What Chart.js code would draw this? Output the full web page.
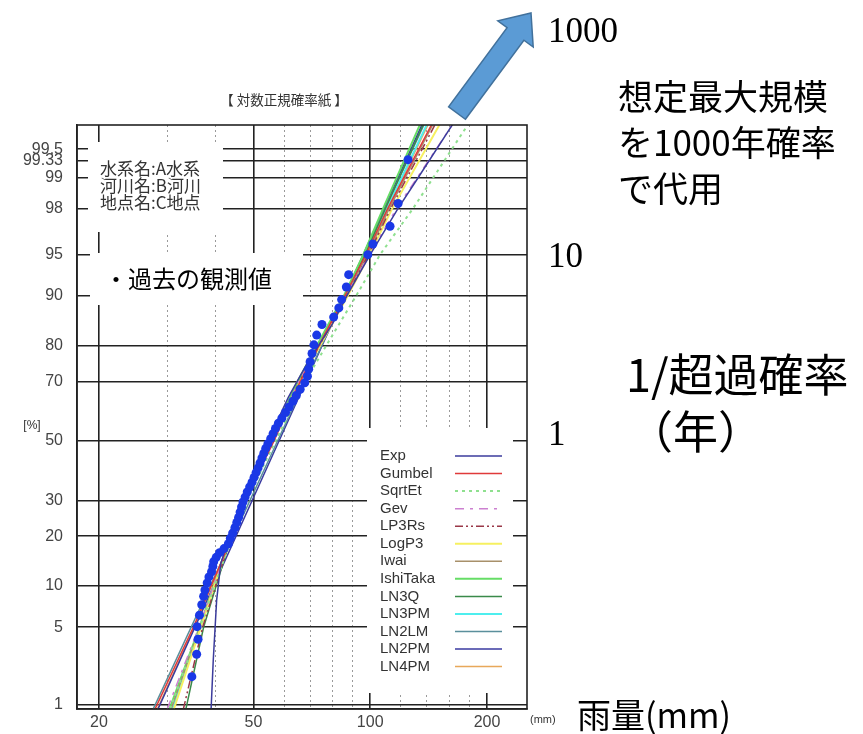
<!DOCTYPE html>
<html><head><meta charset="utf-8">
<script src="https://cdn.jsdelivr.net/npm/chart.js@4.4.1/dist/chart.umd.min.js"></script>
<style>html,body{margin:0;padding:0;background:#fff;overflow:hidden}canvas{display:block}</style>
</head><body>
<canvas id="c" width="863" height="734"></canvas>
<script>
// ---------- axis ticks ----------
const probTicks = [1, 5, 10, 20, 30, 50, 70, 80, 90, 95, 98, 99, 99.33, 99.5];
const probTickLabels = ['1','5','10','20','30','50','70','80','90','95','98','99','99.33','99.5'];
const rainTicksMajor = [20, 50, 100, 200];
const rainTickLabels = ['20','50','100','200'];
const rainTicksMinor = [30, 40, 60, 70, 80, 90, 120, 140, 160, 180];

// ---------- observed values (rain mm, non-exceedance %) ----------
const obsRain = [34.7,34.7,35.7,36.0,35.8,36.3,36.8,37.2,37.5,38.0,38.4,39.0,39.3,39.5,40.1,40.9,42.0,43.1,43.6,44.2,44.8,45.3,45.8,46.2,46.6,47.0,47.6,48.2,48.9,49.6,50.2,50.8,51.4,52.0,52.6,53.2,53.8,54.5,55.4,56.2,57.0,58.0,59.2,60.5,61.8,63.2,64.5,66.0,67.8,68.9,69.4,70.0,70.8,71.6,72.8,75.1,80.5,83.0,84.4,86.8,88.0,98.6,101.6,112.5,118.0,125.2];
const obsProb = [0.67,1.87,2.98,4.0,5.05,6.2,7.4,8.5,9.4,10.5,11.5,12.4,13.4,14.3,15.2,16.2,17.1,18.2,19.5,20.8,22.2,23.6,25.0,26.5,28.0,29.5,31.0,32.6,34.2,35.8,37.4,39.0,40.6,42.3,44.0,45.7,47.4,49.0,50.8,52.6,54.4,56.2,58.0,59.9,61.8,63.7,65.6,67.6,69.6,71.6,73.7,75.8,78.0,80.2,82.5,84.8,86.3,88.0,89.4,91.3,92.9,95.0,95.9,97.1,98.2,99.35];

// ---------- fitted distributions ----------
const fitProb = [0.9, 5, 15.5, 30, 50, 70, 90, 95, 98, 99.74];
const expProb = [0.9, 2.65, 8, 14, 25, 35, 50, 65, 75, 85, 90, 95, 98, 99, 99.74];
const expRain = [38.9, 39.4, 40.2, 41.2, 45, 48.5, 54.5, 61.5, 68.5, 80, 87, 100, 118, 133, 163];
const gumbelRain = [27.9, 35, 42, 47.5, 56.5, 66, 86, 97.5, 111, 144];
const sqrtEtProb = [0.9, 5, 15.5, 30, 50, 70, 80, 90, 95, 98, 99.74];
const sqrtEtRain = [30.5, 36.4, 42.3, 48, 57, 68, 77, 92, 106, 129, 178.7];
const gevRain = [30.0, 36.2, 42, 47.5, 55.5, 65.5, 86.5, 99.5, 117, 163];
const lp3rsRain = [33.0, 37, 42.2, 47.4, 55.4, 65.8, 87, 99, 113, 147];
const logp3Rain = [31.2, 36.6, 42, 47.3, 55.5, 66, 87.5, 99.5, 114, 151];
const iwaiRain = [30.7, 36.4, 42, 47.2, 55.3, 65.8, 87, 98.5, 112, 145];
const ishiTakaRain = [30.4, 36.3, 42, 47, 55, 65, 85.5, 96, 108, 134.4];
const ln3qRain = [33.5, 37.2, 42.3, 47.3, 55.2, 65.2, 86, 97, 109.5, 137];
const ln3pmRain = [30.9, 36.5, 42, 47.2, 55.3, 65.5, 86.5, 97.5, 110.5, 140];
const ln2Prob = [0.9, 50, 99.74];
const ln2lmRain = [27.6, 57.7, 137.7];
const ln2pmRain = [28.4, 58.2, 136];
const ln4pmRain = [28.3, 35.2, 42, 47.4, 56, 65.8, 86.5, 98, 111, 141];

// ---------- styles ----------
const fits = [
  {name:'Exp',      rain:expRain,      prob:expProb,    color:'#3b3b9c', width:1.5, dash:[]},
  {name:'Gumbel',   rain:gumbelRain,   prob:fitProb,    color:'#e03a3a', width:1.5, dash:[]},
  {name:'SqrtEt',   rain:sqrtEtRain,   prob:sqrtEtProb, color:'#8fe08f', width:2,   dash:[3,4]},
  {name:'Gev',      rain:gevRain,      prob:fitProb,    color:'#cc80d0', width:1.5, dash:[9,6,3,6]},
  {name:'LP3Rs',    rain:lp3rsRain,    prob:fitProb,    color:'#9a3848', width:1.5, dash:[8,3,2,3,2,3]},
  {name:'LogP3',    rain:logp3Rain,    prob:fitProb,    color:'#f6f060', width:2,   dash:[]},
  {name:'Iwai',     rain:iwaiRain,     prob:fitProb,    color:'#a8906a', width:1.5, dash:[]},
  {name:'IshiTaka', rain:ishiTakaRain, prob:fitProb,    color:'#66dd66', width:2,   dash:[]},
  {name:'LN3Q',     rain:ln3qRain,     prob:fitProb,    color:'#3a8a4a', width:1.5, dash:[]},
  {name:'LN3PM',    rain:ln3pmRain,    prob:fitProb,    color:'#4eeeee', width:2,   dash:[]},
  {name:'LN2LM',    rain:ln2lmRain,    prob:ln2Prob,    color:'#5a8f9c', width:1.5, dash:[]},
  {name:'LN2PM',    rain:ln2pmRain,    prob:ln2Prob,    color:'#3a3aa0', width:1.5, dash:[]},
  {name:'LN4PM',    rain:ln4pmRain,    prob:fitProb,    color:'#e8a85a', width:1.5, dash:[]}
];

// normal quantile (probability paper transform)
function probit(p){
  const a=[-3.969683028665376e+01,2.209460984245205e+02,-2.759285104469687e+02,1.383577518672690e+02,-3.066479806614716e+01,2.506628277459239e+00];
  const b=[-5.447609879822406e+01,1.615858368580409e+02,-1.556989798598866e+02,6.680131188771972e+01,-1.328068155288572e+01];
  const c=[-7.784894002430293e-03,-3.223964580411365e-01,-2.400758277161838e+00,-2.549671010243993e+00,4.374664141464968e+00,2.938163982698783e+00];
  const d=[7.784695709041462e-03,3.224671290700398e-01,2.445134137142996e+00,3.754408661907416e+00];
  const pl=0.02425, ph=1-pl; let q,r;
  if(p<pl){q=Math.sqrt(-2*Math.log(p));return (((((c[0]*q+c[1])*q+c[2])*q+c[3])*q+c[4])*q+c[5])/((((d[0]*q+d[1])*q+d[2])*q+d[3])*q+1);}
  if(p<=ph){q=p-0.5;r=q*q;return (((((a[0]*r+a[1])*r+a[2])*r+a[3])*r+a[4])*r+a[5])*q/(((((b[0]*r+b[1])*r+b[2])*r+b[3])*r+b[4])*r+1);}
  q=Math.sqrt(-2*Math.log(1-p));return -(((((c[0]*q+c[1])*q+c[2])*q+c[3])*q+c[4])*q+c[5])/((((d[0]*q+d[1])*q+d[2])*q+d[3])*q+1);
}
const toXY = (rain, prob) => rain.map((r,i)=>({x:r, y:probit(prob[i]/100)}));

const datasets = [{
  label:'観測値', data: toXY(obsRain, obsProb), showLine:false,
  pointRadius:4.5, pointHoverRadius:4.5, backgroundColor:'#1a38e6', borderWidth:0, clip:false
}].concat(fits.map(f=>({
  label:f.name, data: toXY(f.rain, f.prob), showLine:true, pointRadius:0,
  borderColor:f.color, borderWidth:f.width, borderDash:f.dash, tension:0, fill:false
})));

const JP = '"Noto Sans CJK JP", "Noto Sans", sans-serif';
const LAB = '"Liberation Sans Narrow", "Liberation Sans", Arial, sans-serif';

const decor = {
  id:'decor',
  beforeDraw(chart){
    const c=chart.ctx; c.save(); c.fillStyle='#fff'; c.fillRect(0,0,chart.width,chart.height); c.restore();
  },
  beforeDatasetsDraw(chart){
    const c=chart.ctx; c.save(); c.fillStyle='#fff';
    c.fillRect(88,142,135,90);     // station box
    c.fillRect(90,253,213,52);     // observed label box
    c.fillRect(367,428,146,265);   // legend box
    c.restore();
  },
  afterDatasetsDraw(chart){
    const c=chart.ctx, a=chart.chartArea;
    c.save();
    // frame
    c.strokeStyle='#222'; c.lineWidth=1.6; c.setLineDash([]);
    c.strokeRect(a.left, a.top, a.right-a.left, a.bottom-a.top);
    // legend
    c.font='15px "Liberation Sans", Arial, sans-serif'; c.fillStyle='#333';
    c.textBaseline='middle'; c.textAlign='left';
    fits.forEach((f,i)=>{
      const y=456+i*17.55;
      c.fillStyle='#333'; c.fillText(f.name,380,y);
      c.strokeStyle=f.color; c.lineWidth=f.width; c.setLineDash(f.dash);
      c.beginPath(); c.moveTo(455,y); c.lineTo(502,y); c.stroke();
    });
    c.setLineDash([]);
    // station text
    c.fillStyle='#333'; c.font='17px '+JP;
    ['水系名:A水系','河川名:B河川','地点名:C地点'].forEach((t,i)=>c.fillText(t,100,169+i*17));
    c.fillStyle='#000'; c.font='24px '+JP; c.fillText('・過去の観測値',104,279);
    // title
    c.fillStyle='#333'; c.font='13.5px '+JP; c.textAlign='center';
    c.fillText('【 対数正規確率紙 】',284,100);
    c.font='12px '+LAB; c.fillText('[%]',32,426);
    c.textAlign='left'; c.font='11px '+LAB; c.fillText('(mm)',530,720);
    // right annotations
    c.fillStyle='#000';
    c.font='35px "Liberation Serif", "Times New Roman", serif'; c.textBaseline='alphabetic';
    c.fillText('1000',548,42); c.fillText('10',548,267); c.fillText('1',548,445);
    c.textBaseline='middle';
    c.font='35px '+JP;
    c.fillText('想定最大規模',618,97); c.fillText('を1000年確率',618,143); c.fillText('で代用',618,189);
    c.font='45px '+JP;
    c.fillText('1/超過確率',626,375); c.fillText('（年）',628,432);
    c.font='34px '+JP; c.fillText('雨量(mm)',577,715);
    // arrow
    c.beginPath();
    const P=[[465.4,119.3],[523.9,40.2],[533.2,47.0],[531,13],[497.8,20.8],[507.1,27.7],[448.6,106.8]];
    c.moveTo(P[0][0],P[0][1]); P.slice(1).forEach(p=>c.lineTo(p[0],p[1])); c.closePath();
    c.fillStyle='#5b9bd5'; c.fill(); c.strokeStyle='#41719c'; c.lineWidth=1.5; c.stroke();
    c.restore();
  }
};

new Chart(document.getElementById('c'), {
  type:'scatter',
  data:{datasets},
  plugins:[decor],
  options:{
    responsive:false, devicePixelRatio:1, animation:false,
    layout:{padding:{left:0,right:336,top:125,bottom:0}},
    plugins:{legend:{display:false}, tooltip:{enabled:false}},
    scales:{
      x:{
        type:'logarithmic', position:'bottom', min:17.55, max:253.6, bounds:'data',
        afterBuildTicks:s=>{ s.ticks = rainTicksMajor.map(v=>({value:v})); },
        afterFit:s=>{ s.height=25; },
        ticks:{ autoSkip:false, maxRotation:0, padding:4, color:'#444', font:{family:LAB,size:16},
          callback:(v,i)=>rainTickLabels[i] },
        grid:{ color:'#222', lineWidth:1.6, drawTicks:false },
        border:{ display:true, color:'#222', width:1.6 }
      },
      x2:{
        type:'logarithmic', position:'bottom', axis:'x', min:17.55, max:253.6, bounds:'data',
        afterBuildTicks:s=>{ s.ticks = rainTicksMinor.map(v=>({value:v})); },
        afterFit:s=>{ s.height=0; },
        ticks:{ display:false },
        grid:{ color:'#9a9a9a', lineWidth:1, drawTicks:false },
        border:{ display:false, dash:[2,3] }
      },
      y:{
        type:'linear', min:-2.367, max:2.79, bounds:'data',
        afterBuildTicks:s=>{ s.ticks = probTicks.map(p=>({value:probit(p/100)})); },
        afterFit:s=>{ s.width=77; },
        ticks:{ autoSkip:false, padding:14, color:'#444', font:{family:LAB,size:16},
          callback:(v,i)=>probTickLabels[i] },
        grid:{ color:'#222', lineWidth:1.6, drawTicks:false },
        border:{ display:true, color:'#222', width:1.6 }
      }
    }
  }
});
</script>
</body></html>
